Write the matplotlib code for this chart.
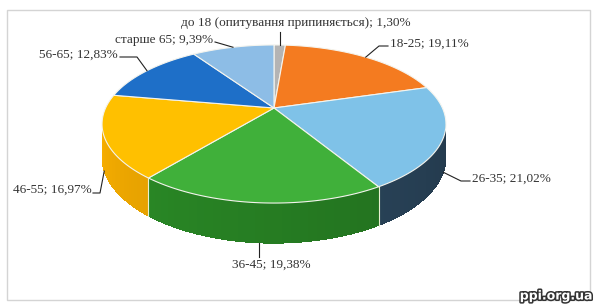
import numpy as np
import matplotlib.pyplot as plt
from matplotlib.patches import Polygon, Rectangle
from matplotlib.colors import to_rgb
import matplotlib.patheffects as pe

labels = ['до 18 (опитування припиняється)', '18-25', '26-35', '36-45',
          '46-55', '56-65', 'старше 65']
shares = [1.30, 19.11, 21.02, 19.38, 16.97, 12.83, 9.39]
top_colors = ['#b4b4b4', '#f47b20', '#7fc2e8', '#40b03a', '#ffc000', '#1e6fc8', '#8dbde6']
side_colors = ['#8a8a8a', '#c05a10', '#2f4d66', '#2a8a26', '#eca600', '#164f90', '#5b88ae']

# pie geometry (pixels), a little perspective
cx, cy = 274, 108
a, b, p = 168.4, 75.8, 0.2025
t = 32


def proj(theta, drop=0.0):
    u, v = np.sin(theta), np.cos(theta)
    d = 1 + p * v
    return cx + a * u / d, cy - b * v / d + drop / d


fig = plt.figure(figsize=(6, 3.06), dpi=100)
ax = fig.add_axes([0, 0, 1, 1])
ax.set_xlim(0, 600)
ax.set_ylim(306, 0)
ax.axis('off')

ax.add_patch(Rectangle((7, 10), 583, 290, fill=False, ec='#d4d4d4', lw=1))

bounds = np.concatenate([[0], np.cumsum(shares)]) / 100 * 2 * np.pi
vis0, vis1 = np.arccos(-p), 2 * np.pi - np.arccos(-p)

# side walls, drawn as overlapping strips so no seams show
for i in range(len(shares)):
    s, e = max(bounds[i], vis0), min(bounds[i + 1], vis1)
    if e <= s:
        continue
    th = np.linspace(s, e, 30)
    base = np.array(to_rgb(side_colors[i]))
    xb, yb = proj(th, t)
    xt, yt = proj(th)
    ax.add_patch(Polygon(list(zip(xt, yt)) + list(zip(xb[::-1], yb[::-1])),
                         closed=True, fc=base * 0.9, ec='none'))
    for k in range(len(th) - 1):
        f = 0.75 + 0.3 * (th[k] - vis0) / (vis1 - vis0)
        col = np.clip(base * f, 0, 1)
        k2 = min(k + 2, len(th) - 1)
        seg = slice(k, k2 + 1)
        pts = list(zip(xt[seg], yt[seg])) + list(zip(xb[seg][::-1], yb[seg][::-1]))
        ax.add_patch(Polygon(pts, closed=True, fc=col, ec='none', antialiased=False))
    if bounds[i] > vis0:
        x0, y0 = proj(bounds[i]); x1, y1 = proj(bounds[i], t)
        ax.plot([x0, x1], [y0, y1], color='#e8f0d0', lw=0.8)

# top faces
for i in range(len(shares)):
    th = np.linspace(bounds[i], bounds[i + 1], 80)
    xs, ys = proj(th)
    pts = [(cx, cy)] + list(zip(xs, ys))
    ax.add_patch(Polygon(pts, closed=True, fc=top_colors[i], ec='#f4f4ee', lw=0.8))

# labels with leader lines: (text x, text y, ha, elbow points, drop at anchor)
lab_layout = [
    (296, 23, 'center', [(281, 32)], 0),
    (390, 44, 'left', [(388, 46), (379, 46)], 0),
    (472, 179, 'left', [(470, 181), (461, 181)], t),
    (232, 265, 'left', [(259, 257)], t),
    (92, 190, 'right', [(93, 193), (100, 193)], t),
    (118, 55, 'right', [(120, 57), (137, 57)], 0),
    (213, 40, 'right', [(215, 42)], 0),
]
for i, (tx, ty, ha, elbow, dr) in enumerate(lab_layout):
    mid = (bounds[i] + bounds[i + 1]) / 2
    axx, ayy = proj(mid, dr)
    if i == 0 or i == 3:
        elbow = [(axx, elbow[0][1])]
    pts = elbow + [(axx, ayy)]
    ax.plot([q[0] for q in pts], [q[1] for q in pts], color='#222222', lw=0.8)
    txt = f"{labels[i]}; {shares[i]:.2f}%".replace('.', ',')
    ax.text(tx, ty, txt, ha=ha, va='center', fontsize=9.5,
            family='Liberation Serif', color='#333333')

ax.text(592, 296, 'ppi.org.ua', ha='right', va='center', fontsize=9,
        fontweight='bold', color='white', family='DejaVu Sans',
        path_effects=[pe.withStroke(linewidth=2.2, foreground='#333333')])

fig.savefig('out.png', dpi=100)
